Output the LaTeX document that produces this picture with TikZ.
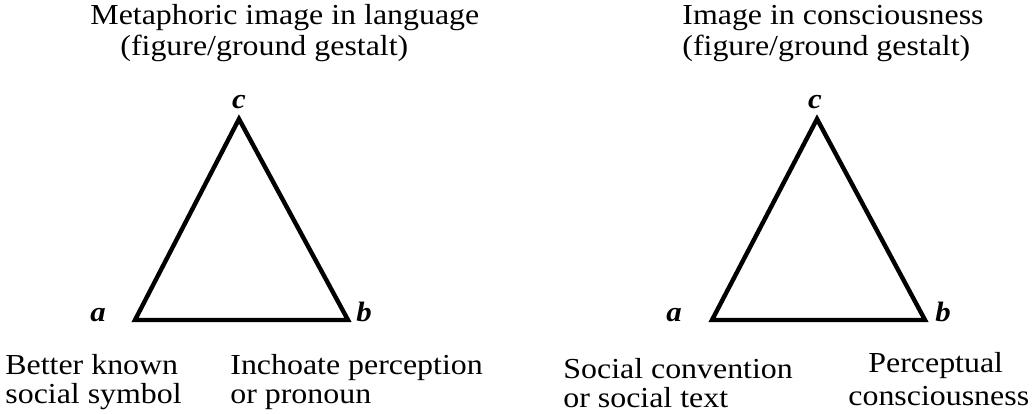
\documentclass[tikz,border=0pt]{standalone}
\usepackage{fontspec}
\setmainfont{Liberation Serif}[FakeStretch=1.1]
\usepackage{tikz}

\tikzset{
  side/.style={line width=2.2pt},
  txt/.style={inner sep=0pt,anchor=west,align=left,font=\fontsize{14.5}{14.5}\selectfont},
  vtx/.style={inner sep=0pt,anchor=base,font=\fontsize{14}{14}\selectfont\bfseries\itshape}
}

\begin{document}
\begin{tikzpicture}[x=0.5pt,y=-0.5pt]
  \useasboundingbox (0,0) rectangle (1036,413);
  % left triangle
  \coordinate (la) at (135,320);
  \coordinate (lb) at (348,320);
  \coordinate (lc) at (239,119);
  \draw[side] (la)--(lb)--(lc)--cycle;
  \node[vtx] (lcl) at (239,108) {c};
  \node[vtx] (lal) at (98,321) {a};
  \node[vtx] (lbl) at (364,321) {b};
  \node[txt] (ltitle) at (90,18) {Metaphoric image in language};
  \node[txt] (lsub) at (120,48) {(figure/ground gestalt)};
  \node[txt] (lleft) at (5,382) {Better known\\social symbol};
  \node[txt] (lright) at (230,382) {Inchoate perception\\or pronoun};
  % right triangle
  \coordinate (ra) at (712,320);
  \coordinate (rb) at (925,320);
  \coordinate (rc) at (817,119);
  \draw[side] (ra)--(rb)--(rc)--cycle;
  \node[vtx] (rcl) at (815,108) {c};
  \node[vtx] (ral) at (674,321) {a};
  \node[vtx] (rbl) at (943,321) {b};
  \node[txt] (rtitle) at (682,18) {Image in consciousness};
  \node[txt] (rsub) at (682,48) {(figure/ground gestalt)};
  \node[txt] (rleft) at (563,383) {Social convention\\or social text};
  \node[txt] (rright) at (848,379) {\hspace*{10pt}Perceptual\\[2pt]consciousness};
\end{tikzpicture}
\end{document}
